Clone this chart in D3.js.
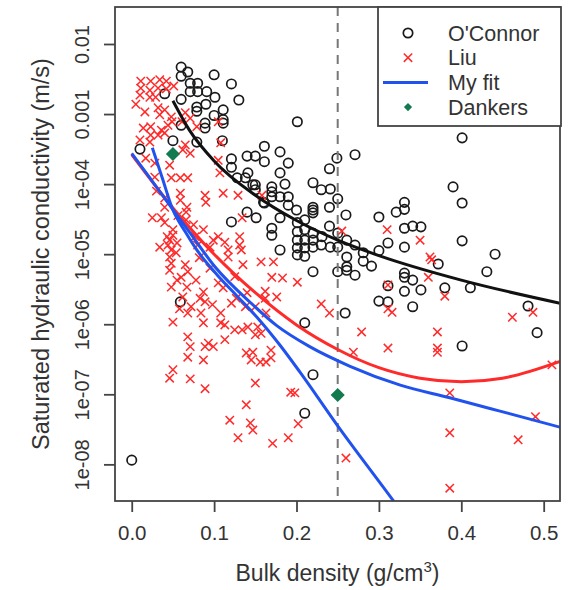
<!DOCTYPE html>
<html>
<head>
<meta charset="utf-8">
<script src="https://cdn.jsdelivr.net/npm/d3@7"></script>
<style>
  body { margin: 0; background: #fff; }
  text { font-family: "Liberation Sans", Arial, Helvetica, sans-serif; }
</style>
</head>
<body>
<div id="chart"></div>
<script>
// tick values / labels
var xTicks = [0, 0.1, 0.2, 0.3, 0.4, 0.5];
var yTicks = [1e-8, 1e-7, 1e-6, 1e-5, 1e-4, 1e-3, 1e-2];
var yTickLabels = ['1e-08', '1e-07', '1e-06', '1e-05', '1e-04', '0.001', '0.01'];

// O'Connor measurements: [bulk density g/cm3, log10 K (m/s)]
var oconnor = [
  [0.060,-2.33],[0.060,-2.46],[0.100,-2.44],[0.121,-2.57],[0.071,-2.56],[0.080,-2.56],[0.071,-2.68],[0.080,-2.68],[0.091,-2.68],[0.101,-2.76],
  [0.040,-2.71],[0.060,-2.79],[0.130,-2.80],[0.079,-2.90],[0.079,-2.96],[0.111,-2.94],[0.111,-3.08],[0.111,-3.13],[0.089,-3.13],[0.089,-3.20],
  [0.060,-3.16],[0.050,-3.38],[0.079,-3.40],[0.110,-3.38],[0.010,-3.50],[0.161,-3.46],[0.201,-3.11],[0.140,-3.60],[0.150,-3.60],[0.121,-3.64],
  [0.180,-3.54],[0.161,-3.68],[0.190,-3.70],[0.121,-3.76],[0.141,-3.84],[0.180,-3.84],[0.249,-3.63],[0.271,-3.58],[0.240,-3.78],[0.220,-3.98],
  [0.230,-4.08],[0.241,-4.07],[0.250,-4.21],[0.240,-4.33],[0.260,-4.44],[0.300,-4.47],[0.150,-4.01],[0.150,-4.08],[0.170,-4.04],[0.170,-4.11],
  [0.170,-4.18],[0.160,-4.26],[0.180,-4.18],[0.190,-4.18],[0.190,-4.30],[0.220,-4.33],[0.220,-4.37],[0.220,-4.41],[0.151,-4.48],[0.180,-4.48],
  [0.170,-4.63],[0.170,-4.73],[0.201,-4.55],[0.210,-4.51],[0.201,-4.68],[0.201,-4.80],[0.201,-4.91],[0.201,-5.01],[0.210,-4.80],[0.210,-4.91],
  [0.210,-5.03],[0.220,-4.70],[0.220,-4.80],[0.220,-4.90],[0.231,-4.75],[0.241,-4.90],[0.250,-4.70],[0.250,-4.90],[0.261,-4.80],[0.271,-4.87],
  [0.180,-4.94],[0.281,-4.98],[0.261,-5.04],[0.261,-5.18],[0.261,-5.23],[0.250,-5.25],[0.271,-5.30],[0.291,-5.17],[0.220,-5.25],[0.128,-3.91],
  [0.138,-3.91],[0.147,-4.01],[0.140,-4.40],[0.121,-4.54],[0.161,-4.27],[0.059,-5.68],[0.210,-5.98],[0.259,-5.84],[0.220,-6.72],[0.210,-7.27],
  [0.000,-7.94],[0.401,-3.34],[0.321,-4.40],[0.331,-4.26],[0.331,-4.36],[0.390,-4.04],[0.401,-4.27],[0.331,-4.63],[0.341,-4.60],[0.351,-4.61],
  [0.311,-4.84],[0.331,-4.90],[0.401,-4.81],[0.441,-5.00],[0.372,-5.14],[0.431,-5.25],[0.411,-5.48],[0.380,-5.48],[0.331,-5.27],[0.331,-5.33],
  [0.341,-5.37],[0.311,-5.45],[0.331,-5.53],[0.351,-5.51],[0.300,-5.67],[0.311,-5.68],[0.341,-5.75],[0.481,-5.74],[0.492,-6.12],[0.401,-6.31],
  [0.230,-4.87],[0.210,-4.65],[0.068,-2.40],[0.090,-2.86],[0.100,-3.02],[0.186,-4.00],[0.200,-4.37],[0.240,-4.60],[0.281,-5.10],[0.300,-4.95]
];

// Liu measurements: [bulk density, log10 K]
var liu = [
  [0.011,-2.53],[0.023,-2.53],[0.034,-2.51],[0.042,-2.53],[0.051,-2.60],[0.011,-2.63],[0.022,-2.66],[0.032,-2.63],[0.042,-2.64],[0.022,-2.76],
  [0.029,-2.76],[0.010,-2.73],[0.005,-2.86],[0.016,-2.97],[0.032,-2.91],[0.040,-2.94],[0.034,-3.01],[0.048,-3.04],[0.065,-2.98],[0.071,-3.06],
  [0.049,-3.11],[0.061,-3.11],[0.014,-3.20],[0.023,-3.18],[0.036,-3.23],[0.044,-3.16],[0.023,-3.30],[0.032,-3.30],[0.040,-3.27],[0.010,-3.37],
  [0.022,-3.40],[0.065,-3.44],[0.071,-3.56],[0.062,-3.51],[0.017,-3.63],[0.028,-3.70],[0.046,-3.73],[0.079,-3.18],[0.105,-3.11],[0.108,-3.41],
  [0.105,-3.66],[0.107,-3.84],
  [0.028,-3.90],[0.048,-3.91],[0.059,-3.91],[0.068,-3.91],[0.059,-4.13],[0.059,-4.23],[0.067,-4.33],[0.089,-4.16],[0.090,-4.26],[0.111,-4.13],
  [0.129,-4.16],[0.025,-4.48],[0.036,-4.48],[0.040,-4.33],[0.040,-4.55],[0.066,-4.40],[0.066,-4.51],[0.050,-4.65],[0.050,-4.73],[0.046,-4.80],
  [0.048,-4.94],[0.046,-5.04],[0.048,-5.13],[0.046,-5.23],[0.054,-4.98],[0.044,-4.87],[0.077,-4.75],[0.080,-4.87],[0.087,-4.65],[0.099,-4.80],
  [0.095,-4.90],[0.105,-4.75],[0.113,-4.83],[0.131,-4.75],[0.131,-4.87],[0.133,-4.94],[0.117,-4.94],[0.117,-5.04],[0.157,-5.11],[0.172,-5.11],
  [0.135,-5.15],[0.068,-5.25],[0.060,-5.33],[0.065,-5.15],[0.078,-5.37],[0.055,-5.37],[0.067,-5.47],[0.087,-5.54],[0.105,-5.41],[0.111,-5.48],
  [0.048,-5.47],[0.062,-5.61],[0.083,-5.63],[0.089,-5.68],[0.072,-5.75],[0.068,-5.84],[0.084,-5.84],[0.087,-5.98],[0.108,-5.84],[0.108,-5.98],
  [0.050,-5.97],[0.127,-5.63],[0.121,-5.70],[0.138,-5.75],[0.150,-5.75],[0.162,-5.63],[0.163,-5.84],[0.141,-6.04],[0.153,-6.04],[0.134,-4.48],
  [0.034,-4.90],[0.043,-4.75],[0.055,-4.84],[0.170,-5.33],[0.183,-5.34],[0.201,-5.40],[0.162,-5.53],[0.176,-5.61],[0.158,-4.16],
  [0.113,-6.01],[0.125,-6.08],[0.157,-6.13],[0.150,-6.15],[0.134,-6.08],[0.068,-6.18],[0.071,-6.32],[0.068,-6.47],[0.093,-6.27],[0.099,-6.32],
  [0.089,-6.32],[0.087,-6.51],[0.113,-6.22],[0.139,-6.41],[0.147,-6.40],[0.145,-6.51],[0.156,-6.54],[0.163,-6.54],[0.169,-6.48],[0.169,-6.37],
  [0.050,-6.65],[0.046,-6.77],[0.071,-6.78],[0.089,-6.92],[0.150,-6.84],[0.193,-6.97],[0.198,-6.98],[0.139,-7.15],[0.119,-7.37],[0.144,-7.41],
  [0.147,-7.51],[0.129,-7.62],[0.171,-7.70],[0.190,-7.62],[0.202,-7.42],
  [0.255,-4.67],[0.310,-4.65],[0.350,-4.80],[0.362,-5.04],[0.364,-5.08],[0.360,-5.33],[0.380,-5.60],[0.311,-5.44],[0.230,-5.71],[0.240,-5.84],
  [0.311,-5.78],[0.316,-5.83],[0.279,-6.11],[0.371,-6.11],[0.462,-5.90],[0.487,-5.83],[0.269,-6.40],[0.311,-6.34],[0.371,-6.34],[0.371,-6.40],
  [0.510,-6.58],[0.386,-6.98],[0.490,-7.32],[0.386,-7.55],[0.469,-7.65],[0.260,-7.91],[0.386,-8.34],
  [0.030,-4.10],[0.040,-4.20],[0.056,-4.45],[0.075,-4.58],[0.082,-5.05],[0.095,-5.20],[0.125,-5.32],[0.140,-5.55],[0.058,-5.78],[0.098,-5.72]
];

// Dankers points
var dankers = [[0.05, -3.57], [0.25, -7.01]];

// fitted curves (density, log10 K)
var oconnorFitX = [0.05, 0.07, 0.1, 0.15, 0.2, 0.25, 0.3, 0.4, 0.52];
var oconnorFitK = [-2.81, -3.23, -3.67, -4.16, -4.52, -4.80, -5.02, -5.37, -5.70];
var liuFitX = [0, 0.05, 0.1, 0.15, 0.2, 0.25, 0.3, 0.35, 0.4, 0.45, 0.52];
var liuFitK = [-3.58, -4.34, -5.00, -5.55, -6.01, -6.36, -6.62, -6.77, -6.82, -6.77, -6.53];
var myFitAX = [0, 0.022, 0.046, 0.071, 0.101, 0.144, 0.176, 0.216, 0.265, 0.326, 0.386, 0.447, 0.52];
var myFitAK = [-3.56, -3.91, -4.30, -4.70, -5.18, -5.69, -6.02, -6.32, -6.60, -6.87, -7.05, -7.24, -7.47];
var myFitBX = [0.025, 0.037, 0.050, 0.065, 0.079, 0.104, 0.128, 0.152, 0.180, 0.204, 0.250, 0.317, 0.350];
var myFitBK = [-3.48, -3.91, -4.37, -4.68, -4.94, -5.30, -5.60, -5.90, -6.30, -6.68, -7.45, -8.51, -9.04];

var cutoffDensity = 0.25;

var legendItems = ["O'Connor", 'Liu', 'My fit', 'Dankers'];

//Width and height
var width = 572;
var height = 590;
var plot = { left: 115, right: 560, top: 7, bottom: 501 };

var colBlack = '#111';
var colRed = '#ff2a2a';
var colBlue = '#2152ee';
var colGreen = '#127a4e';

var xScale = d3.scaleLinear()
               .domain([-0.0203, 0.5198])
               .range([plot.left, plot.right]);

var yScale = d3.scaleLog()
               .domain([Math.pow(10, -8.523), Math.pow(10, -1.472)])
               .range([plot.bottom, plot.top]);

function px(d) { return xScale(d[0]); }
function py(d) { return yScale(Math.pow(10, d[1])); }

var svg = d3.select('#chart')
            .append('svg')
            .attr('width', width)
            .attr('height', height);

svg.append('rect').attr('width', width).attr('height', height).attr('fill', '#fff');

svg.append('clipPath').attr('id', 'clip')
   .append('rect')
   .attr('x', plot.left).attr('y', plot.top)
   .attr('width', plot.right - plot.left).attr('height', plot.bottom - plot.top);

var area = svg.append('g').attr('clip-path', 'url(#clip)');

// cross symbol like R's pch 4
var crossSymbol = {
  draw: function (ctx, size) {
    var r = Math.sqrt(size) / 2;
    ctx.moveTo(-r, -r); ctx.lineTo(r, r);
    ctx.moveTo(-r, r); ctx.lineTo(r, -r);
  }
};

//O'Connor circles
area.selectAll('circle.oc')
    .data(oconnor)
    .enter()
    .append('circle')
    .attr('class', 'oc')
    .attr('cx', px)
    .attr('cy', py)
    .attr('r', 4.7)
    .style('fill', 'none')
    .style('stroke', '#1a1a1a')
    .style('stroke-width', 1.7);

//Liu crosses
area.selectAll('path.liu')
    .data(liu)
    .enter()
    .append('path')
    .attr('class', 'liu')
    .attr('d', d3.symbol().type(crossSymbol).size(70))
    .attr('transform', function (d) { return 'translate(' + px(d) + ',' + py(d) + ')'; })
    .style('fill', 'none')
    .style('stroke', colRed)
    .style('stroke-width', 1.5);

//dashed cutoff line
area.append('line')
    .attr('x1', xScale(cutoffDensity)).attr('x2', xScale(cutoffDensity))
    .attr('y1', plot.top).attr('y2', plot.bottom)
    .style('stroke', '#777')
    .style('stroke-width', 2)
    .style('stroke-dasharray', '9,7');

var line = d3.line().x(px).y(py).curve(d3.curveMonotoneX);

var fits = [
  { x: oconnorFitX, k: oconnorFitK, col: colBlack },
  { x: liuFitX, k: liuFitK, col: colRed },
  { x: myFitAX, k: myFitAK, col: colBlue },
  { x: myFitBX, k: myFitBK, col: colBlue }
];

area.selectAll('path.fit')
    .data(fits)
    .enter()
    .append('path')
    .attr('class', 'fit')
    .attr('d', function (f) { return line(d3.zip(f.x, f.k)); })
    .style('fill', 'none')
    .style('stroke', function (f) { return f.col; })
    .style('stroke-width', 3);

//Dankers diamonds
area.selectAll('path.dk')
    .data(dankers)
    .enter()
    .append('path')
    .attr('class', 'dk')
    .attr('d', d3.symbol().type(d3.symbolSquare).size(100))
    .attr('transform', function (d) { return 'translate(' + px(d) + ',' + py(d) + ') rotate(45)'; })
    .style('fill', colGreen);

//plot box
svg.append('rect')
   .attr('x', plot.left).attr('y', plot.top)
   .attr('width', plot.right - plot.left).attr('height', plot.bottom - plot.top)
   .style('fill', 'none')
   .style('stroke', '#444')
   .style('stroke-width', 1.8);

// x axis
var xAxis = d3.axisBottom(xScale)
              .tickValues(xTicks)
              .tickFormat(d3.format('.1f'))
              .tickSize(11)
              .tickPadding(13);

var gx = svg.append('g')
   .attr('transform', 'translate(0,' + plot.bottom + ')')
   .call(xAxis);
gx.select('.domain').remove();
gx.selectAll('line').style('stroke', '#444').style('stroke-width', 1.8);
gx.selectAll('text').style('font-size', '20.5px').style('fill', '#333');

// y axis
var yAxis = d3.axisLeft(yScale)
              .tickValues(yTicks)
              .tickFormat(function (d, i) { return yTickLabels[i]; })
              .tickSize(11);

var gy = svg.append('g')
   .attr('transform', 'translate(' + plot.left + ',0)')
   .call(yAxis);
gy.select('.domain').remove();
gy.selectAll('line').style('stroke', '#444').style('stroke-width', 1.8);
gy.selectAll('text')
  .attr('x', 0)
  .attr('y', -26)
  .attr('dy', 0)
  .attr('transform', 'rotate(-90)')
  .style('text-anchor', 'middle')
  .style('font-size', '20px')
  .style('fill', '#333');

// axis titles
var xTitle = svg.append('text')
   .attr('x', (plot.left + plot.right) / 2)
   .attr('y', 581)
   .style('text-anchor', 'middle')
   .style('font-size', '23px')
   .style('fill', '#333');
xTitle.append('tspan').text('Bulk density (g/cm');
xTitle.append('tspan').attr('dy', -9).style('font-size', '15px').text('3');
xTitle.append('tspan').attr('dy', 9).text(')');

svg.append('text')
   .attr('transform', 'translate(49,' + ((plot.top + plot.bottom) / 2) + ') rotate(-90)')
   .style('text-anchor', 'middle')
   .style('font-size', '23.5px')
   .style('fill', '#333')
   .text('Saturated hydraulic conductivity (m/s)');

// legend
var legend = svg.append('g');
legend.append('rect')
      .attr('x', 378).attr('y', plot.top)
      .attr('width', plot.right - 378 + 1).attr('height', 119)
      .style('fill', '#fff')
      .style('stroke', '#444')
      .style('stroke-width', 1.8);

var rows = legend.selectAll('g.row')
      .data(legendItems)
      .enter()
      .append('g')
      .attr('class', 'row')
      .attr('transform', function (d, i) { return 'translate(408,' + (33 + i * 24.7) + ')'; });

rows.append('text')
    .attr('x', 40)
    .attr('dy', '0.36em')
    .style('font-size', '21.5px')
    .style('fill', '#333')
    .text(function (d) { return d; });

rows.filter(function (d, i) { return i === 0; })
    .append('circle').attr('r', 4.7)
    .style('fill', 'none').style('stroke', '#1a1a1a').style('stroke-width', 1.7);
rows.filter(function (d, i) { return i === 1; })
    .append('path').attr('d', d3.symbol().type(crossSymbol).size(70))
    .style('fill', 'none').style('stroke', colRed).style('stroke-width', 1.5);
rows.filter(function (d, i) { return i === 2; })
    .append('line').attr('x1', -25).attr('x2', 20)
    .style('stroke', colBlue).style('stroke-width', 3);
rows.filter(function (d, i) { return i === 3; })
    .append('path').attr('d', d3.symbol().type(d3.symbolSquare).size(34))
    .attr('transform', 'rotate(45)')
    .style('fill', colGreen);
</script>
</body>
</html>
